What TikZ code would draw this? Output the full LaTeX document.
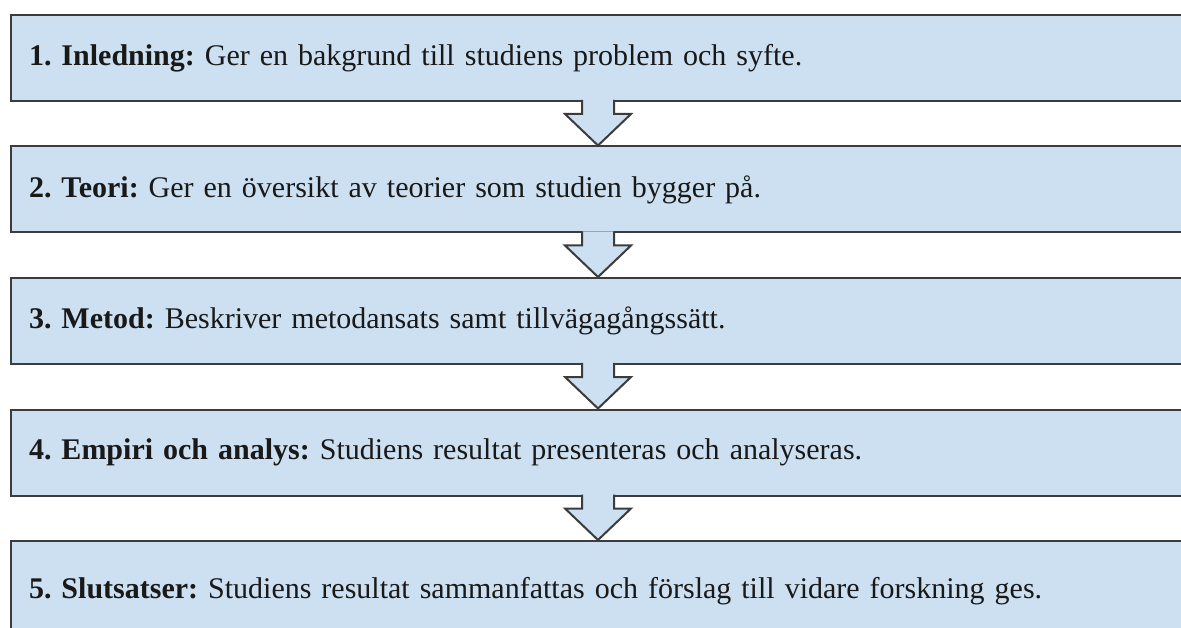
\documentclass[tikz,border=0pt]{standalone}
\usepackage{fontspec}
\setmainfont{Liberation Serif}
\usetikzlibrary{calc}
\definecolor{boxfill}{RGB}{204,224,241}
\definecolor{boxline}{RGB}{60,60,60}
\tikzset{
  stagebox/.style={draw=boxline, line width=2pt, fill=boxfill, rectangle,
    minimum width=1180pt, minimum height=86pt, text width=1144pt,
    inner xsep=18pt, inner ysep=0pt, align=left, anchor=north west,
    font=\frenchspacing\fontsize{30}{35}\selectfont, text=black!90},
  blockarrow/.style={fill=boxfill, draw=boxline, line width=2pt, line join=miter}
}
\newcommand{\stagearrow}[2]{%
  \path[blockarrow] ($(#1.south -| ax)+(-16,-2)$) -- ($(#1.south -| ax)+(-16,12)$)
    -- ($(#1.south -| ax)+(-33,12)$) -- (#2.north -| ax)
    -- ($(#1.south -| ax)+(33,12)$) -- ($(#1.south -| ax)+(16,12)$)
    -- ($(#1.south -| ax)+(16,-2)$);}
\begin{document}
\begin{tikzpicture}[x=1pt,y=-1pt]
\useasboundingbox (0,0) rectangle (1181,628);
\clip (0,0) rectangle (1181,628);
\fill[white] (0,0) rectangle (1181,628);
\coordinate (ax) at (598,0);
\node[stagebox] (b1) at (10,14) {\textbf{1. Inledning:} Ger en bakgrund till studiens problem och syfte.};
\node[stagebox] (b2) at (10,145.5) {\textbf{2. Teori:} Ger en översikt av teorier som studien bygger på.};
\node[stagebox] (b3) at (10,277) {\textbf{3. Metod:} Beskriver metodansats samt tillvägagångssätt.};
\node[stagebox] (b4) at (10,408.5) {\textbf{4. Empiri och analys:} Studiens resultat presenteras och analyseras.};
\node[stagebox, minimum height=100pt] (b5) at (10,540) {\textbf{5. Slutsatser:} Studiens resultat sammanfattas och förslag till vidare forskning ges.};
\stagearrow{b1}{b2}
\stagearrow{b2}{b3}
\stagearrow{b3}{b4}
\stagearrow{b4}{b5}
\end{tikzpicture}
\end{document}
